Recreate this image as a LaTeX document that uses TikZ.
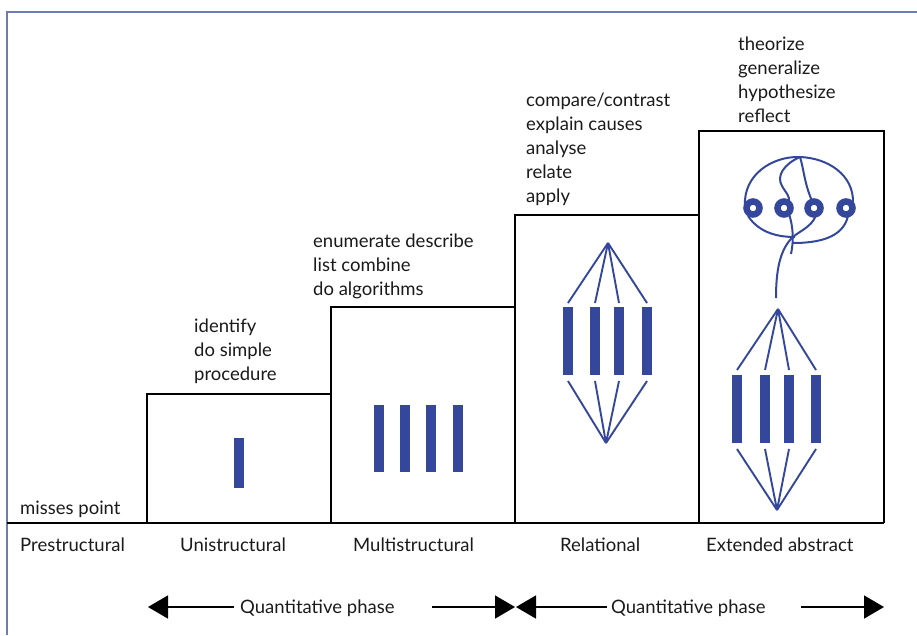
\documentclass[tikz,border=0pt]{standalone}
\usepackage{fontspec}
\setmainfont{Lato}
\usetikzlibrary{arrows.meta}
\definecolor{sblue}{HTML}{34479A}
\definecolor{frameblue}{HTML}{6D7DB3}
\definecolor{ink}{HTML}{1A1A1A}
\tikzset{
  lbl/.style={anchor=base west, inner sep=0pt, text=ink, font=\fontsize{18.5}{24}\selectfont},
  boxline/.style={draw=black, line width=2.2pt},
  bar/.style={fill=sblue, draw=none, minimum width=10pt, inner sep=0pt, outer sep=0pt},
  fan/.style={draw=sblue, line width=1.9pt},
  ring/.style={circle, draw=sblue, line width=6.5pt, minimum size=13pt, inner sep=0pt},
  strand/.style={draw=sblue, line width=2pt},
  phase/.style={draw=black, line width=1.6pt, -{Triangle[length=20pt,width=23pt]}}
}
\begin{document}
\begin{tikzpicture}[x=1pt,y=-1pt]
\useasboundingbox (0,0) rectangle (917,635);
% frame
\draw[frameblue, line width=1.6pt] (7,635) -- (7,12) -- (917,12);
% steps
\draw[boxline] (7,523) -- (884,523);
\draw[boxline] (147,523) -- (147,394) -- (331,394) -- (331,307) -- (515,307) -- (515,215) -- (699,215) -- (699,131) -- (884,131) -- (884,523);
\draw[boxline] (331,394) -- (331,523);
\draw[boxline] (515,307) -- (515,523);
\draw[boxline] (699,215) -- (699,523);

% labels above steps
\node[lbl] (mp) at (20,514) {misses point};
\node[lbl] (u1t) at (194,332) {identify};
\node[lbl] (u2t) at (194,356) {do simple};
\node[lbl] (u3t) at (194,380) {procedure};
\node[lbl] (m1t) at (313,247) {enumerate describe};
\node[lbl] (m2t) at (313,271) {list combine};
\node[lbl] (m3t) at (313,295) {do algorithms};
\node[lbl] (r1t) at (526,106) {compare/contrast};
\node[lbl] (r2t) at (526,130) {explain causes};
\node[lbl] (r3t) at (526,154) {analyse};
\node[lbl] (r4t) at (526,178) {relate};
\node[lbl] (r5t) at (526,202) {apply};
\node[lbl] (e1t) at (738,50) {theorize};
\node[lbl] (e2t) at (738,74) {generalize};
\node[lbl] (e3t) at (738,98) {hypothesize};
\node[lbl] (e4t) at (738,122) {reflect};

% level names
\node[lbl] (pre) at (20,551) {Prestructural};
\node[lbl] (uni) at (180,551) {Unistructural};
\node[lbl] (mul) at (353,551) {Multistructural};
\node[lbl] (rel) at (560,551) {Relational};
\node[lbl] (ext) at (706,551) {Extended abstract};

% unistructural bar
\node[bar, minimum height=50pt] (ub) at (239,463) {};
% multistructural bars
\foreach \i/\x in {1/379,2/405,3/431,4/458}{
  \node[bar, minimum height=67pt] (mb\i) at (\x,438.5) {};
}
% relational
\foreach \i/\x in {1/568,2/595,3/619,4/647}{
  \node[bar, minimum height=68pt] (rb\i) at (\x,341) {};
}
\coordinate (rtop) at (608,243);
\coordinate (rbot) at (606,443);
\foreach \i in {1,...,4}{
  \draw[fan] (rtop) -- ([yshift=4pt]rb\i.north);
  \draw[fan] (rbot) -- ([yshift=-6pt]rb\i.south);
}
% extended abstract
\foreach \i/\x in {1/737,2/765,3/789,4/816}{
  \node[bar, minimum height=68pt] (eb\i) at (\x,409) {};
}
\coordinate (etop) at (778,309);
\coordinate (ebot) at (777,510);
\foreach \i in {1,...,4}{
  \draw[fan] (etop) -- ([yshift=5pt]eb\i.north);
  \draw[fan] (ebot) -- ([yshift=-6pt]eb\i.south);
}
% loop with rings
\draw[strand] (745,206) .. controls (743,175) and (772,156) .. (800,157) .. controls (828,158) and (854,175) .. (853,203);
\draw[strand] (748,216) .. controls (760,234) and (780,237) .. (795,237);
\draw[strand] (848,216) .. controls (843,238) and (818,243) .. (793,243);
\draw[strand] (800,157) .. controls (784,164) and (776,176) .. (782,186) .. controls (786,193) and (790,196) .. (789,202);
\draw[strand] (789,214) .. controls (793,226) and (794,240) .. (791,254);
\draw[strand] (800,157) .. controls (804,170) and (804,182) .. (812,201);
\draw[strand] (816,215) .. controls (812,228) and (796,232) .. (790,240) .. controls (780,252) and (776,270) .. (776,298);
\foreach \i/\x in {1/753,2/784,3/814,4/846}{
  \node[ring] (c\i) at (\x,208) {};
}

% phase arrows
\node[lbl] (q1) at (240,613) {Quantitative phase};
\node[lbl] (q2) at (611,613) {Quantitative phase};
\coordinate (a1) at (148,607);
\coordinate (a1s) at (234,607);
\coordinate (a2s) at (432,607);
\coordinate (a2) at (515,607);
\coordinate (a3s) at (607,607);
\coordinate (a3) at (516,607);
\coordinate (a4s) at (801,607);
\coordinate (a4) at (884,607);
\draw[phase] (a1s) -- (a1);
\draw[phase] (a2s) -- (a2);
\draw[phase] (a3s) -- (a3);
\draw[phase] (a4s) -- (a4);
\end{tikzpicture}
\end{document}
